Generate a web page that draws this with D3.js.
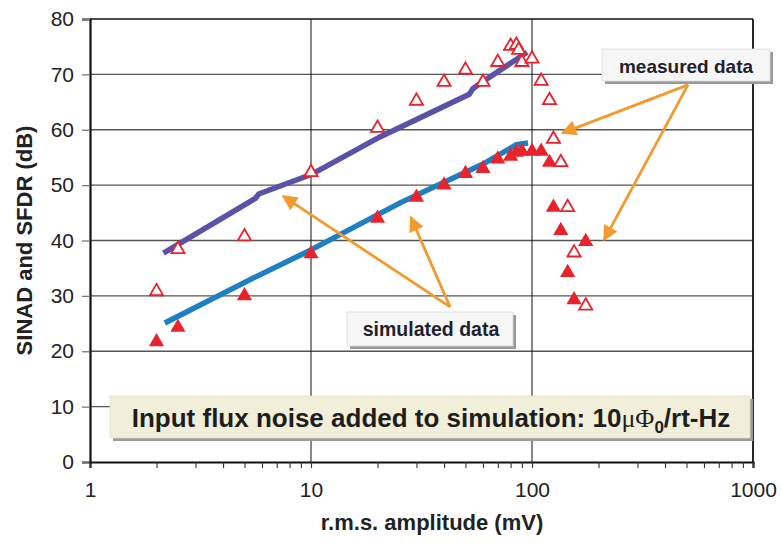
<!DOCTYPE html>
<html>
<head>
<meta charset="utf-8" />
<title>SINAD and SFDR vs amplitude</title>
<script src="https://d3js.org/d3.v7.min.js"></script>
<style>
  body { margin: 0; background: #fff; }
  svg { display: block; font-family: "Liberation Sans", Arial, sans-serif; }
</style>
</head>
<body>
<div id="chart"></div>
<script>
// measured SFDR (open triangles)
var sfdrX = [2, 2.5, 5, 10, 20, 30, 40, 50, 60, 70, 80, 85, 87, 90, 100, 110, 120, 125, 135, 145, 155, 175];
var sfdrY = [30.8, 38.4, 40.7, 52.3, 60.3, 65.2, 68.6, 70.8, 68.6, 72.2, 75.1, 75.3, 74.4, 72.2, 72.8, 68.8, 65.3, 58.3, 54.1, 46.0, 37.8, 28.2];

// measured SINAD (filled triangles)
var sinadX = [2, 2.5, 5, 10, 20, 30, 40, 50, 60, 70, 80, 85, 90, 100, 110, 120, 125, 135, 145, 155, 175];
var sinadY = [21.7, 24.3, 30.0, 37.6, 44.0, 47.8, 50.0, 52.1, 53.0, 54.7, 55.2, 55.9, 56.1, 56.1, 56.1, 54.1, 46.0, 41.8, 34.2, 29.3, 39.8];

// simulated curves
var simSfdrX = [2.15, 5.6, 5.8, 10, 11, 20.5, 52, 54, 58, 95];
var simSfdrY = [37.7, 47.6, 48.4, 51.9, 52.8, 58.7, 66.4, 67.4, 68.3, 74.0];
var simSinadX = [2.18, 5.47, 10, 25.3, 60, 85, 96];
var simSinadY = [25.1, 33.2, 38.3, 46.8, 53.8, 57.3, 57.6];

var xTicks = [1, 10, 100, 1000];
var yTicks = [0, 10, 20, 30, 40, 50, 60, 70, 80];

// annotation arrows: [fromX, fromY, toX, toY] in data units
var measuredArrows = [[508, 68.1, 137, 59.4], [508, 68.1, 212, 40.1]];
var simulatedArrows = [[42.6, 28.0, 7.47, 48.0], [42.6, 28.0, 28.3, 44.2]];

var width = 782, height = 543;
var margin = { top: 19, right: 29, bottom: 81, left: 90 };

var svg = d3.select("#chart").append("svg")
  .attr("width", width)
  .attr("height", height);

var x = d3.scaleLog().domain([1, 1000]).range([margin.left, width - margin.right]);
var y = d3.scaleLinear().domain([0, 80]).range([height - margin.bottom, margin.top]);

var red = "#e8232b";
var orange = "#f39a2e";

// horizontal grid
svg.append("g")
  .selectAll("line")
  .data(yTicks.slice(1, -1))
  .join("line")
  .attr("x1", x(1)).attr("x2", x(1000))
  .attr("y1", d => y(d)).attr("y2", d => y(d))
  .attr("stroke", "#555").attr("stroke-width", 1.3);

// vertical grid
svg.append("g")
  .selectAll("line")
  .data([10, 100])
  .join("line")
  .attr("x1", d => x(d)).attr("x2", d => x(d))
  .attr("y1", y(80)).attr("y2", y(0))
  .attr("stroke", "#111").attr("stroke-width", 1);

// frame top / right
svg.append("line")
  .attr("x1", x(1)).attr("x2", x(1000)).attr("y1", y(80)).attr("y2", y(80))
  .attr("stroke", "#111").attr("stroke-width", 1.5);
svg.append("line")
  .attr("x1", x(1000)).attr("x2", x(1000)).attr("y1", y(80)).attr("y2", y(0))
  .attr("stroke", "#111").attr("stroke-width", 1.8);

// y axis
var yAxis = svg.append("g")
  .attr("transform", `translate(${margin.left},0)`)
  .call(d3.axisLeft(y).tickValues(yTicks).tickSize(8).tickPadding(8));
yAxis.select(".domain").attr("stroke", "#111").attr("stroke-width", 2.2);
yAxis.selectAll(".tick line").attr("stroke", "#777").attr("stroke-width", 1.3);
yAxis.selectAll(".tick text").attr("font-size", 21).attr("fill", "#222")
  .attr("font-family", "Liberation Sans, Arial, sans-serif");

// x axis: minor ticks + labels
var minor = [];
for (var dec = 1; dec < 1000; dec *= 10)
  for (var k = 1; k <= 9; k++) minor.push(dec * k);
minor.push(1000);

var xAxis = svg.append("g")
  .attr("transform", `translate(0,${y(0)})`)
  .call(d3.axisBottom(x).tickValues(minor).tickSize(6).tickPadding(14)
    .tickFormat(d => xTicks.indexOf(d) >= 0 ? d : ""));
xAxis.select(".domain").attr("stroke", "#111").attr("stroke-width", 2.2);
xAxis.selectAll(".tick line").attr("stroke", "#333").attr("stroke-width", 1.1);
xAxis.selectAll(".tick text").attr("font-size", 21).attr("fill", "#222")
  .attr("font-family", "Liberation Sans, Arial, sans-serif");

// simulated lines
var line = d3.line().x(d => x(d[0])).y(d => y(d[1]));
svg.append("path")
  .datum(d3.zip(simSfdrX, simSfdrY))
  .attr("d", line).attr("fill", "none")
  .attr("stroke", "#5a52a6").attr("stroke-width", 5.5);
svg.append("path")
  .datum(d3.zip(simSinadX, simSinadY))
  .attr("d", line).attr("fill", "none")
  .attr("stroke", "#1f7fc3").attr("stroke-width", 5.5);

// markers
var tri = d3.symbol().type(d3.symbolTriangle);
svg.append("g")
  .selectAll("path")
  .data(d3.zip(sinadX, sinadY))
  .join("path")
  .attr("d", tri.size(100)())
  .attr("transform", d => `translate(${x(d[0])},${y(d[1])})`)
  .attr("fill", red);
svg.append("g")
  .selectAll("path")
  .data(d3.zip(sfdrX, sfdrY))
  .join("path")
  .attr("d", tri.size(75)())
  .attr("transform", d => `translate(${x(d[0])},${y(d[1])})`)
  .attr("fill", "#fff").attr("stroke", red).attr("stroke-width", 1.8);

// arrows
svg.append("defs").append("marker")
  .attr("id", "head")
  .attr("viewBox", "0 0 10 10")
  .attr("refX", 9).attr("refY", 5)
  .attr("markerWidth", 6).attr("markerHeight", 5.5)
  .attr("markerUnits", "strokeWidth")
  .attr("orient", "auto")
  .append("path").attr("d", "M0,0 L10,5 L0,10 Z").attr("fill", orange);

svg.append("g")
  .selectAll("line")
  .data(measuredArrows.concat(simulatedArrows))
  .join("line")
  .attr("x1", d => x(d[0])).attr("y1", d => y(d[1]))
  .attr("x2", d => x(d[2])).attr("y2", d => y(d[3]))
  .attr("stroke", orange).attr("stroke-width", 2.8)
  .attr("marker-end", "url(#head)");

// label boxes
function labelBox(bx, by, bw, bh, fill, stroke) {
  svg.append("rect").attr("x", bx + 3).attr("y", by + 3).attr("width", bw).attr("height", bh)
    .attr("fill", "#9a9a9a");
  svg.append("rect").attr("x", bx).attr("y", by).attr("width", bw).attr("height", bh)
    .attr("fill", fill).attr("stroke", stroke).attr("stroke-width", 0.8);
}

labelBox(602, 49, 168, 32, "#f6f6f6", "#ddd");
svg.append("text").attr("x", 686).attr("y", 73).attr("text-anchor", "middle")
  .attr("font-size", 19).attr("font-weight", "bold").attr("fill", "#221f2e")
  .text("measured data");

labelBox(347, 312, 166, 34, "#f6f6f6", "#ddd");
svg.append("text").attr("x", 431).attr("y", 336).attr("text-anchor", "middle")
  .attr("font-size", 19.5).attr("font-weight", "bold").attr("fill", "#221f2e")
  .text("simulated data");

labelBox(110, 396, 640, 42, "#f1efd9", "#e3e0c4");
var note = svg.append("text").attr("x", 431).attr("y", 427).attr("text-anchor", "middle")
  .attr("font-size", 26).attr("font-weight", "bold").attr("fill", "#1e1e1e");
note.append("tspan").text("Input flux noise added to simulation: 10");
note.append("tspan").attr("font-family", "Liberation Serif, serif").attr("font-weight", "normal").text("\u03bc\u03a6");
note.append("tspan").attr("font-size", 17).attr("dy", 6).text("0");
note.append("tspan").attr("dy", -6).text("/rt-Hz");

// axis titles
svg.append("text")
  .attr("x", 432).attr("y", 530).attr("text-anchor", "middle")
  .attr("font-size", 22).attr("font-weight", "bold").attr("fill", "#222")
  .text("r.m.s. amplitude (mV)");
svg.append("text")
  .attr("transform", `translate(32,${y(40)}) rotate(-90)`).attr("text-anchor", "middle")
  .attr("font-size", 22).attr("font-weight", "bold").attr("fill", "#222")
  .text("SINAD and SFDR (dB)");
</script>
</body>
</html>
